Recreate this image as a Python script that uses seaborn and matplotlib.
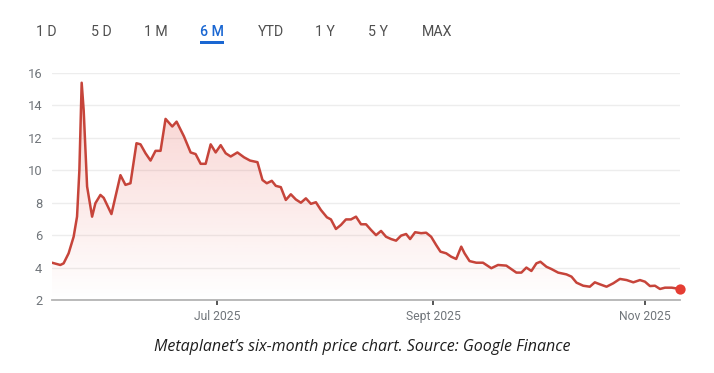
import numpy as np
import pandas as pd
import matplotlib
matplotlib.use("Agg")
import matplotlib.pyplot as plt
import matplotlib.dates as mdates
from matplotlib.colors import to_rgb
from matplotlib.patches import Rectangle
import seaborn as sns

# ---------------- data ----------------
base_date = "2025-07-01"
day_offsets = [
    -47.55, -45.16, -44.21, -42.77, -41.33, -40.35, -39.68, -39.02, -38.44, -37.46,
    -36.02, -35.07, -33.63, -32.68, -30.46, -27.87, -26.43, -24.99, -23.26, -22.10,
    -20.66, -19.22, -17.78, -16.34, -14.90, -12.97, -11.73, -9.63, -7.69, -6.25,
    -4.81, -3.37, -1.93, -0.49, 0.95, 2.39, 3.83, 5.76, 7.67, 9.39,
    11.53, 12.97, 14.21, 15.65, 16.80, 18.24, 19.68, 21.12, 22.56, 24.01,
    25.45, 26.89, 28.33, 29.77, 31.50, 32.65, 34.09, 35.53, 36.97, 38.41,
    39.86, 41.30, 42.74, 44.18, 45.62, 47.06, 48.50, 49.94, 51.38, 52.82,
    54.27, 55.42, 56.86, 58.59, 60.03, 61.47, 62.91, 64.15, 65.79, 67.23,
    68.67, 70.12, 71.07, 72.51, 74.44, 76.37, 78.76, 80.69, 83.08, 85.97,
    87.41, 88.85, 90.29, 91.73, 92.88, 94.61, 96.05, 97.98, 100.37, 101.82,
    103.26, 105.19, 107.09, 108.53, 109.97, 111.90, 113.83, 115.74, 117.67, 119.60,
    121.50, 122.94, 124.38, 125.82, 127.26, 128.70, 130.63, 133.02,
]
prices = [
    4.30, 4.16, 4.26, 4.88, 5.90, 7.14, 10.0, 15.4, 13.7, 9.00,
    7.14, 7.97, 8.48, 8.30, 7.30, 9.70, 9.10, 9.20, 11.67, 11.60,
    11.05, 10.60, 11.20, 11.20, 13.17, 12.70, 13.00, 12.10, 11.10, 11.00,
    10.40, 10.40, 11.60, 11.10, 11.55, 11.05, 10.85, 11.10, 10.80, 10.60,
    10.50, 9.40, 9.20, 9.35, 9.04, 8.96, 8.17, 8.52, 8.20, 8.00,
    8.27, 7.93, 8.03, 7.55, 7.10, 6.97, 6.38, 6.63, 6.97, 6.97,
    7.14, 6.67, 6.67, 6.32, 6.00, 6.26, 5.90, 5.76, 5.66, 5.97,
    6.07, 5.76, 6.18, 6.12, 6.15, 5.90, 5.39, 4.98, 4.88, 4.67,
    4.53, 5.29, 4.88, 4.40, 4.30, 4.30, 3.96, 4.16, 4.12, 3.69,
    3.69, 4.00, 3.79, 4.26, 4.36, 4.05, 3.91, 3.69, 3.58, 3.44,
    3.07, 2.88, 2.82, 3.09, 2.97, 2.82, 3.03, 3.30, 3.23, 3.09,
    3.23, 3.13, 2.86, 2.88, 2.68, 2.76, 2.76, 2.68,
]
tabs = ["1 D", "5 D", "1 M", "6 M", "YTD", "1 Y", "5 Y", "MAX"]
active_tab = "6 M"
y_ticks = [2, 4, 6, 8, 10, 12, 14, 16]
x_tick_dates = ["2025-07-01", "2025-09-01", "2025-11-01"]
x_tick_labels = ["Jul 2025", "Sept 2025", "Nov 2025"]
caption = "Metaplanet\u2019s six-month price chart. Source: Google Finance"

# ---------------- styling ----------------
sns.set_theme(style="white")
plt.rcParams["font.family"] = ["Roboto", "DejaVu Sans"]

W, H = 714, 373
LINE_COLOR = "#c6443a"
DOT_COLOR = "#e53d33"
FILL_COLOR = "#e3443a"

dates = pd.Timestamp(base_date) + pd.to_timedelta(day_offsets, unit="D")
df = pd.DataFrame({"date": dates, "price": prices})

fig = plt.figure(figsize=(W / 100, H / 100), dpi=100)
fig.patch.set_facecolor("white")
ax = fig.add_axes([52 / W, 73 / H, 628 / W, 227 / H])

sns.lineplot(data=df, x="date", y="price", ax=ax, color=LINE_COLOR,
             linewidth=1.8, zorder=4, solid_joinstyle="round")

# gradient fill under the line
xmin = mdates.date2num(df["date"].min())
xmax = mdates.date2num(df["date"].max())
poly = ax.fill_between(df["date"], df["price"], y_ticks[0], color="none", lw=0)
grad = np.zeros((256, 1, 4))
grad[..., :3] = to_rgb(FILL_COLOR)
grad[..., 3] = np.linspace(0.26, 0.0, 256)[:, None]
im = ax.imshow(grad, extent=[xmin, xmax, y_ticks[0], y_ticks[-1]],
               aspect="auto", origin="upper", zorder=2)
im.set_clip_path(poly.get_paths()[0], transform=ax.transData)

# last point marker
ax.scatter([df["date"].iloc[-1]], [df["price"].iloc[-1]], s=55,
           color=DOT_COLOR, zorder=6, clip_on=False, linewidths=0)

ax.set_xlim(xmin, xmax)
ax.set_ylim(y_ticks[0], y_ticks[-1])
ax.set_yticks(y_ticks)
ax.set_yticklabels([str(v) for v in y_ticks])
ax.set_xticks(mdates.date2num(pd.to_datetime(x_tick_dates)))
ax.set_xticklabels(x_tick_labels)
ax.set_xlabel("")
ax.set_ylabel("")

ax.grid(axis="y", color="#ededed", linewidth=1.0, zorder=0)
ax.grid(axis="x", visible=False)
for side in ["top", "left", "right"]:
    ax.spines[side].set_visible(False)
ax.spines["bottom"].set_color("#b4b4b4")
ax.spines["bottom"].set_linewidth(1.3)
ax.spines["bottom"].set_zorder(5)

ax.tick_params(axis="y", length=0, pad=7, labelsize=9.3, labelcolor="#70757a")
ax.tick_params(axis="x", direction="out", length=3.5, width=1.4, color="#555555",
               pad=4, labelsize=8.7, labelcolor="#70757a", bottom=True)

# range tabs
tab_x = [46.7, 101, 155.7, 211.7, 270.7, 325, 377.7, 436.7]
for label, px in zip(tabs, tab_x):
    active = label == active_tab
    fig.text(px / W, 1 - 32.5 / H, label, ha="center", va="center",
             fontsize=10.2, color="#1a67d2" if active else "#505050",
             fontweight="medium" if active else "normal")
    if active:
        fig.add_artist(Rectangle((200 / W, 1 - 43.5 / H), 23.5 / W, 2.2 / H,
                                 transform=fig.transFigure, color="#1a67d2", lw=0))

# caption
fig.text(362 / W, 1 - 347 / H, caption, ha="center", va="center",
         fontfamily=["Open Sans", "DejaVu Sans"], style="italic",
         fontsize=11.5, color="#1e1e1e")

fig.savefig("out.png", dpi=100, facecolor="white")
